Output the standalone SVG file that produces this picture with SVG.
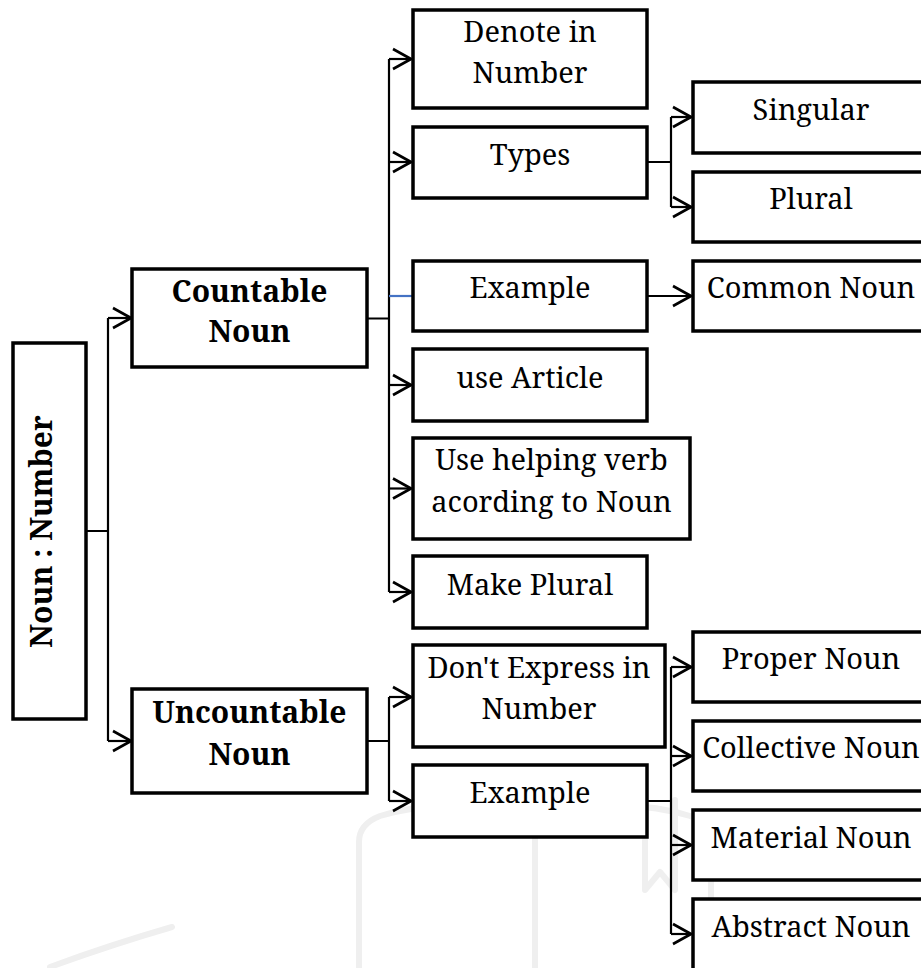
<svg xmlns="http://www.w3.org/2000/svg" width="921" height="968" viewBox="0 0 921 968">
<style>
.box{fill:#fff;stroke:#000;stroke-width:3.5}
.t{font-family:"Noto Serif","DejaVu Serif","Liberation Serif",serif;font-size:29px;fill:#000;text-anchor:middle}
.b{font-weight:bold;font-size:30px}
.ln{fill:none;stroke:#000;stroke-width:2.2}
.ar{fill:none;stroke:#000;stroke-width:2.2;marker-end:url(#arr)}
.wm{fill:none;stroke:#efefef;stroke-width:6;stroke-linecap:round;stroke-linejoin:round}
</style>
<defs>
<marker id="arr" markerUnits="userSpaceOnUse" viewBox="-20 -12 22 24" markerWidth="22" markerHeight="24" refX="0" refY="0" orient="auto">
<path d="M-18,-10 L0,0 L-18,10" fill="none" stroke="#000" stroke-width="2.6"/>
</marker>
</defs>
<rect width="921" height="968" fill="#fff"/>
<g id="watermark">
<path class="wm" d="M50,967 Q110,945 172,927"/>
<path class="wm" d="M359,968 V842 Q359,824 380,816 Q440,798 500,812 Q526,820 535,834 V968"/>
<path class="wm" d="M535,834 Q545,820 570,812 Q630,798 690,816 Q711,824 711,842 V968"/>
<path class="wm" d="M645,792 V890 L660,872 L675,890 V800"/>
</g>
<g id="connectors">
<path class="ln" d="M86,531 H108 M108,318 V741"/>
<path class="ar" d="M108,318 H131"/>
<path class="ar" d="M108,741 H131"/>
<path class="ln" d="M367,318.5 H389 M389,59 V592"/>
<path class="ar" d="M389,59 H411"/>
<path class="ar" d="M389,162 H411"/>
<path d="M389,296 H412" fill="none" stroke="#4472C4" stroke-width="2.2"/>
<path class="ar" d="M389,385 H411"/>
<path class="ar" d="M389,488.5 H411"/>
<path class="ar" d="M389,592 H411"/>
<path class="ln" d="M647,162 H671 M671,117 V207"/>
<path class="ar" d="M671,117 H691"/>
<path class="ar" d="M671,207 H691"/>
<path class="ar" d="M647,296 H691"/>
<path class="ln" d="M367,741 H389 M389,697 V801"/>
<path class="ar" d="M389,697 H411"/>
<path class="ar" d="M389,801 H411"/>
<path class="ln" d="M647,801 H671 M671,667 V934"/>
<path class="ar" d="M671,667 H691"/>
<path class="ar" d="M671,756 H691"/>
<path class="ar" d="M671,845 H691"/>
<path class="ar" d="M671,934 H691"/>
</g>
<g id="root"><rect class="box" x="13" y="343" width="73" height="376"/><text class="t b" transform="translate(52,531.5) rotate(-90)">Noun : Number</text></g>
<g id="countable"><rect class="box" x="132" y="269" width="235" height="98"/><text class="t b" x="249.5" y="301.7">Countable</text><text class="t b" x="249.5" y="341.7">Noun</text></g>
<g id="uncountable"><rect class="box" x="132" y="689" width="235" height="104"/><text class="t b" x="249.5" y="722.7">Uncountable</text><text class="t b" x="249.5" y="765">Noun</text></g>
<g id="denote"><rect class="box" x="413" y="10" width="234" height="98"/><text class="t" x="530" y="41.7">Denote in</text><text class="t" x="530" y="82.7">Number</text></g>
<g id="types"><rect class="box" x="413" y="127" width="234" height="71"/><text class="t" x="530" y="165">Types</text></g>
<g id="example1"><rect class="box" x="413" y="261" width="234" height="70"/><text class="t" x="530" y="298.3">Example</text></g>
<g id="article"><rect class="box" x="413" y="349" width="234" height="72"/><text class="t" x="530" y="388.3">use Article</text></g>
<g id="helping"><rect class="box" x="413" y="438" width="277" height="101"/><text class="t" x="551.5" y="470">Use helping verb</text><text class="t" x="551.5" y="511.7">acording to Noun</text></g>
<g id="makeplural"><rect class="box" x="413" y="556" width="234" height="72"/><text class="t" x="530" y="595">Make Plural</text></g>
<g id="dontexpress"><rect class="box" x="413" y="645" width="252" height="102"/><text class="t" x="539" y="678.3">Don't Express in</text><text class="t" x="539" y="719.3">Number</text></g>
<g id="example2"><rect class="box" x="413" y="765" width="234" height="72"/><text class="t" x="530" y="803.3">Example</text></g>
<g id="singular"><rect class="box" x="693" y="82" width="236" height="71"/><text class="t" x="811" y="120">Singular</text></g>
<g id="plural"><rect class="box" x="693" y="172" width="236" height="70"/><text class="t" x="811" y="209">Plural</text></g>
<g id="common"><rect class="box" x="693" y="261" width="236" height="70"/><text class="t" x="811" y="298.3">Common Noun</text></g>
<g id="proper"><rect class="box" x="693" y="632" width="236" height="70"/><text class="t" x="811" y="669.3">Proper Noun</text></g>
<g id="collective"><rect class="box" x="693" y="721" width="236" height="70"/><text class="t" x="811" y="758.3">Collective Noun</text></g>
<g id="material"><rect class="box" x="693" y="810" width="236" height="70"/><text class="t" x="811" y="848.3">Material Noun</text></g>
<g id="abstract"><rect class="box" x="693" y="899" width="236" height="80"/><text class="t" x="811" y="936.7">Abstract Noun</text></g>
</svg>
